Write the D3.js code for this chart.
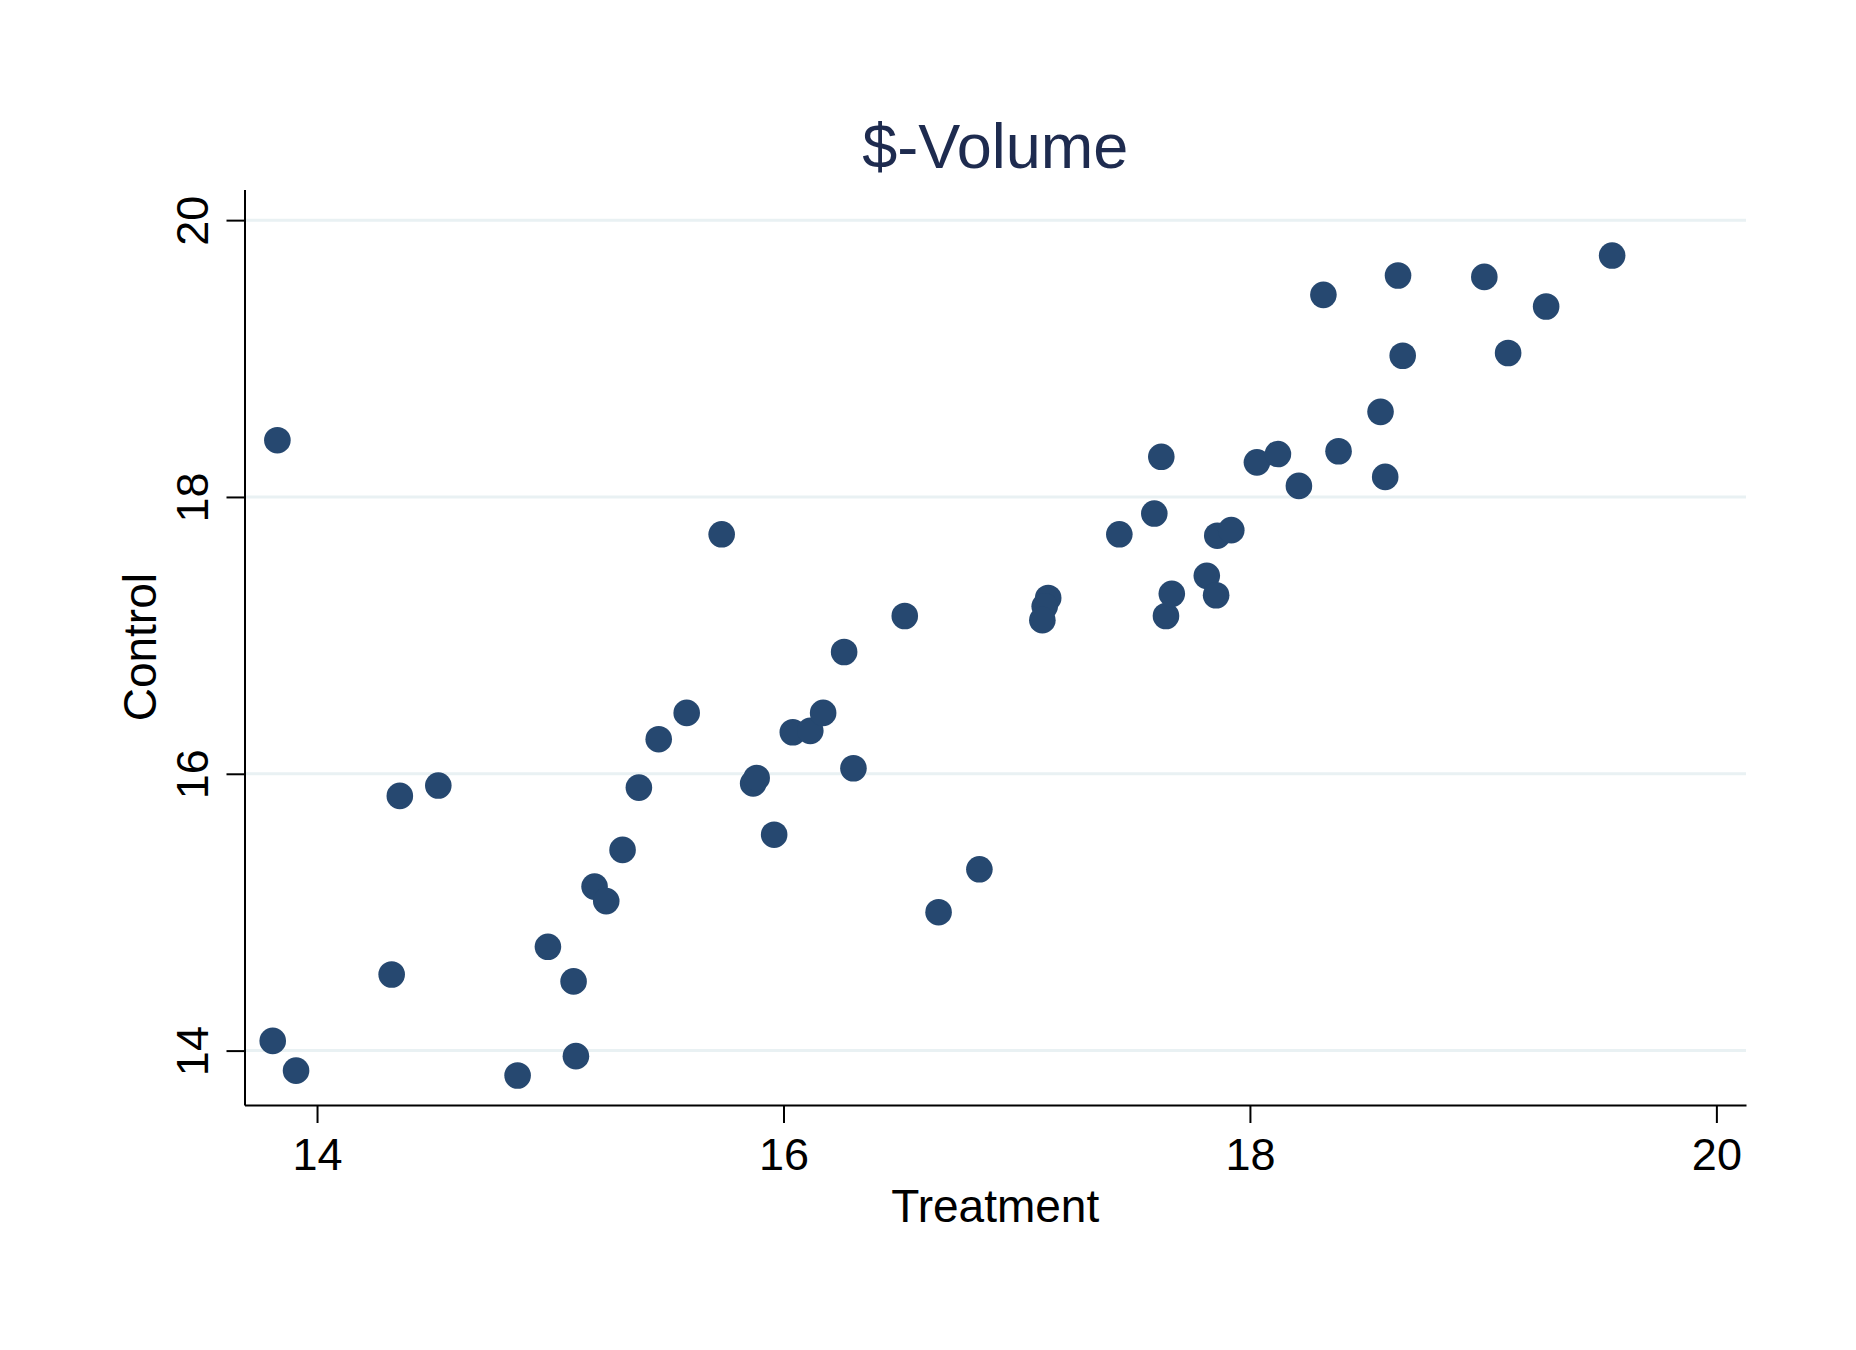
<!DOCTYPE html>
<html>
<head>
<meta charset="utf-8">
<script src="https://cdn.jsdelivr.net/npm/d3@7"></script>
<style>
  html, body { margin: 0; padding: 0; background: #ffffff; }
  svg { display: block; font-family: "Liberation Sans", Arial, Helvetica, sans-serif; }
</style>
</head>
<body>
<svg id="chart" width="1856" height="1350"></svg>
<script>
// ---- data ----
const chartTitle = "$-Volume";
const xLabel = "Treatment";
const yLabel = "Control";
const xTicks = [14, 16, 18, 20];
const yTicks = [14, 16, 18, 20];

const treatment = [
  13.83, 13.81, 13.91, 14.32, 14.355, 14.52, 14.86, 14.99, 15.10, 15.11,
  15.19, 15.24, 15.31, 15.38, 15.465, 15.585, 15.735, 15.87, 15.885, 15.96,
  16.04, 16.115, 16.17, 16.26, 16.30, 16.52, 16.665, 16.84, 17.135, 17.12,
  17.11, 17.44, 17.59, 17.62, 17.64, 17.665, 17.815, 17.855, 17.86, 17.92,
  18.03, 18.12, 18.21, 18.315, 18.38, 18.56, 18.58, 18.635, 18.655, 19.005,
  19.107, 19.27, 19.553
];
const control = [
  18.41, 14.07, 13.855, 14.55, 15.84, 15.915, 13.82, 14.75, 14.50, 13.96,
  15.185, 15.08, 15.45, 15.90, 16.25, 16.44, 17.73, 15.93, 15.97, 15.56,
  16.30, 16.31, 16.44, 16.88, 16.04, 17.14, 15.00, 15.31, 17.27, 17.21,
  17.11, 17.73, 17.88, 18.29, 17.14, 17.30, 17.43, 17.29, 17.72, 17.76,
  18.25, 18.31, 18.08, 19.46, 18.33, 18.615, 18.145, 19.60, 19.02, 19.59,
  19.04, 19.376, 19.744
];

// ---- layout ----
const svg = d3.select("#chart");
const plot = { left: 244.5, right: 1746, top: 189.4, bottom: 1105 };
const ink = "#000000";
const markerColor = "#264870";
const gridColor = "#e9f1f3";

svg.append("rect").attr("width", 1856).attr("height", 1350).attr("fill", "#ffffff");

const x = d3.scaleLinear().domain([13.689, 20.127]).range([plot.left, plot.right]);
const y = d3.scaleLinear().domain([13.607, 20.222]).range([plot.bottom, plot.top]);

// gridlines
svg.append("g").selectAll("line").data(yTicks).join("line")
  .attr("x1", plot.left).attr("x2", plot.right)
  .attr("y1", d => y(d)).attr("y2", d => y(d))
  .attr("stroke", gridColor).attr("stroke-width", 3);

// points
const pts = treatment.map((t, i) => ({ x: t, y: control[i] }));
svg.append("g").selectAll("circle").data(pts).join("circle")
  .attr("cx", d => x(d.x)).attr("cy", d => y(d.y))
  .attr("r", 13.3)
  .attr("fill", markerColor);

// x axis
const gx = svg.append("g")
  .attr("transform", `translate(0,${plot.bottom})`)
  .call(d3.axisBottom(x).tickValues(xTicks).tickSize(18).tickSizeOuter(0).tickFormat(d3.format("d")));
gx.select(".domain").attr("stroke", ink).attr("stroke-width", 2);
gx.selectAll(".tick line").attr("stroke", ink).attr("stroke-width", 2);
gx.selectAll(".tick text")
  .attr("y", 65).attr("dy", 0)
  .attr("fill", ink)
  .style("font-size", "45px");

// y axis
const gy = svg.append("g")
  .attr("transform", `translate(${plot.left},0)`)
  .call(d3.axisLeft(y).tickValues(yTicks).tickSize(18).tickSizeOuter(0).tickFormat(d3.format("d")));
gy.select(".domain").attr("stroke", ink).attr("stroke-width", 2);
gy.selectAll(".tick line").attr("stroke", ink).attr("stroke-width", 2);
gy.selectAll(".tick text")
  .attr("transform", "rotate(-90)")
  .attr("x", 0).attr("y", -37).attr("dy", 0)
  .attr("text-anchor", "middle")
  .attr("fill", ink)
  .style("font-size", "45px");

// title
svg.append("text")
  .attr("x", (plot.left + plot.right) / 2).attr("y", 168)
  .attr("text-anchor", "middle")
  .attr("fill", "#1e2b4f")
  .style("font-size", "63px")
  .text(chartTitle);

// axis titles
svg.append("text")
  .attr("x", (plot.left + plot.right) / 2).attr("y", 1222)
  .attr("text-anchor", "middle")
  .attr("fill", ink)
  .style("font-size", "46px")
  .text(xLabel);

svg.append("text")
  .attr("transform", `translate(156,${(plot.top + plot.bottom) / 2}) rotate(-90)`)
  .attr("text-anchor", "middle")
  .attr("fill", ink)
  .style("font-size", "46px")
  .text(yLabel);
</script>
</body>
</html>
